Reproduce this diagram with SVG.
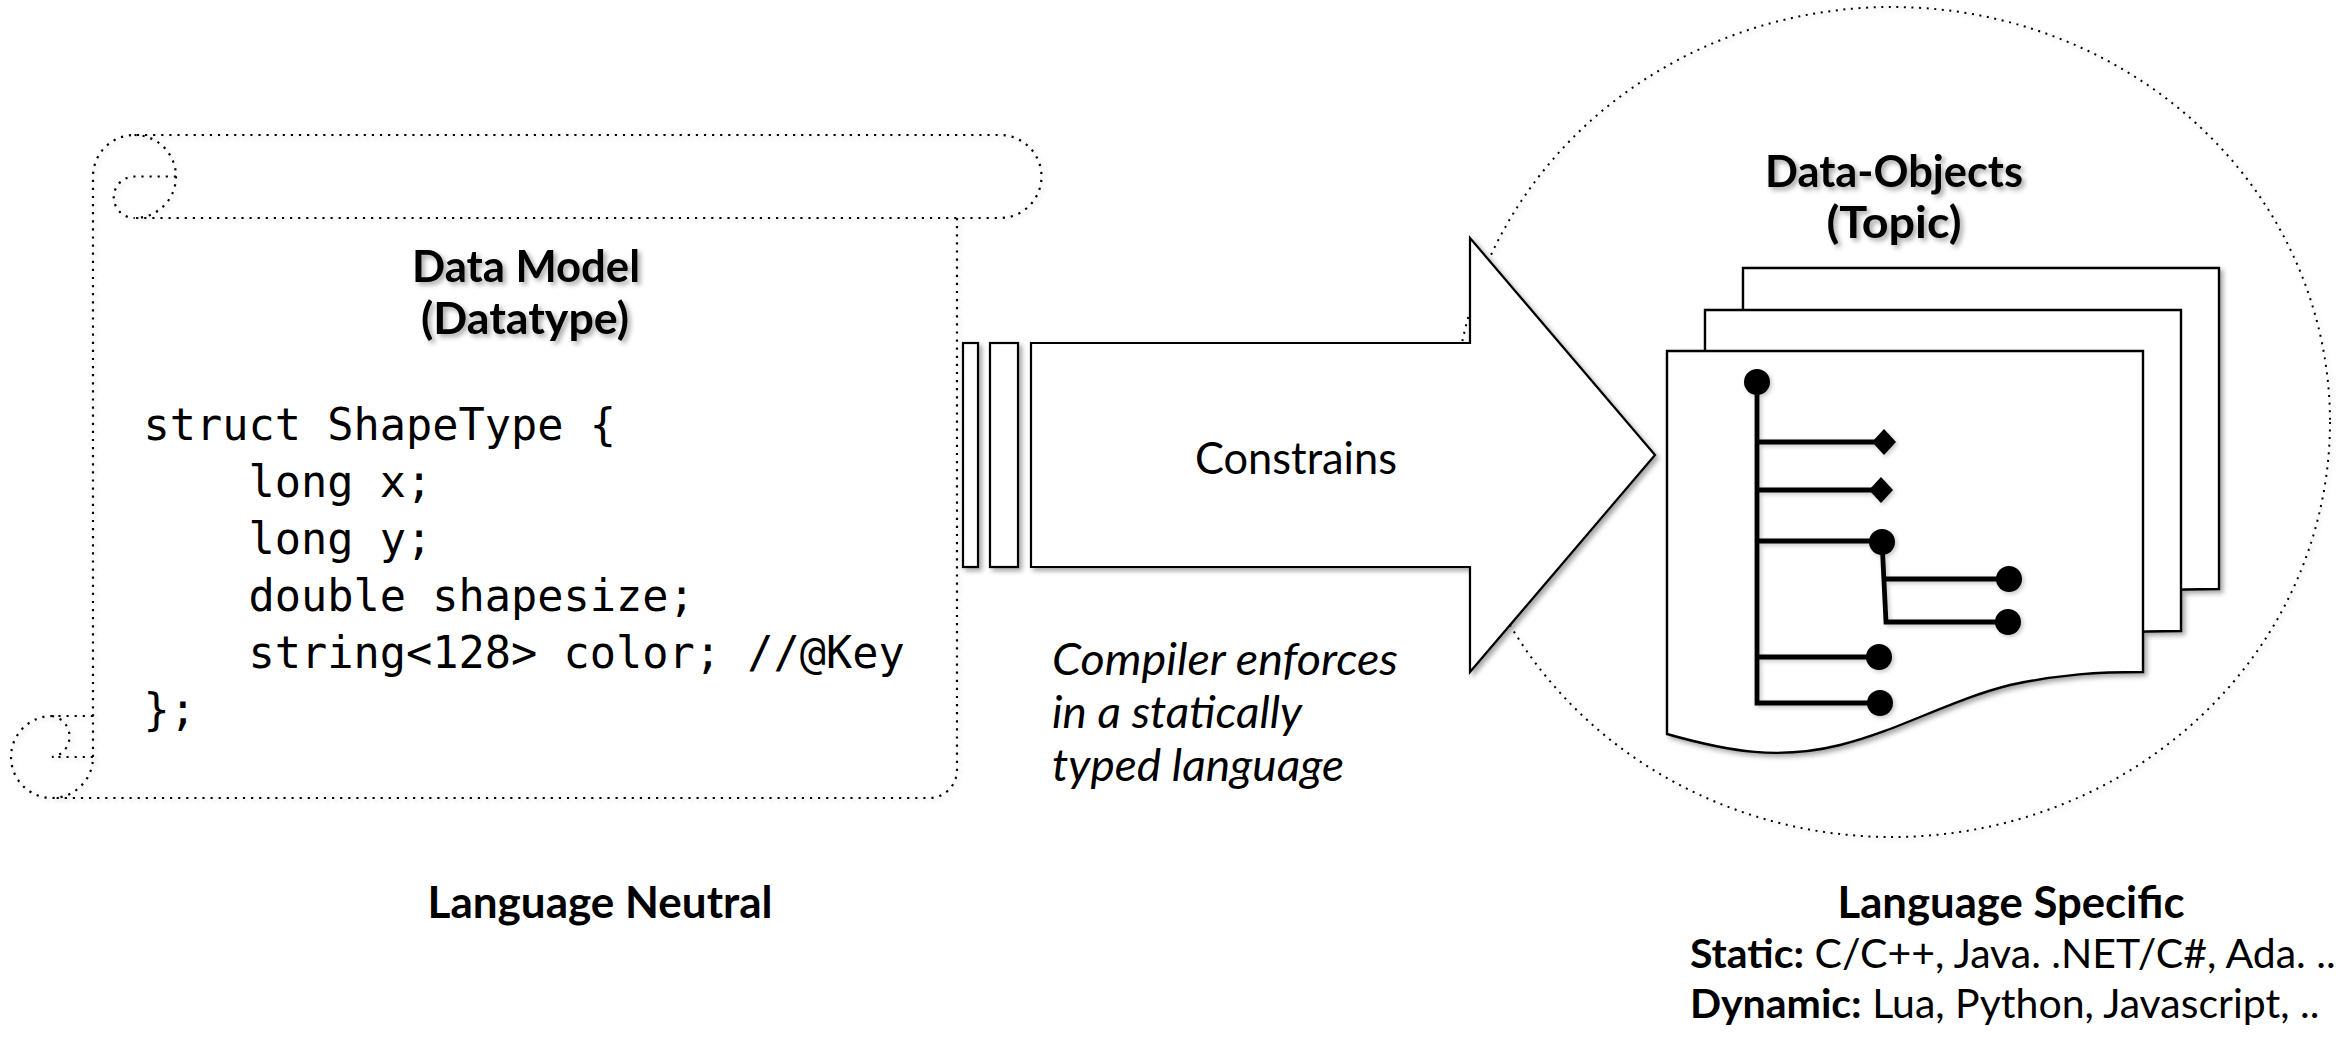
<svg xmlns="http://www.w3.org/2000/svg" width="2344" height="1046" viewBox="0 0 2344 1046">
  <defs>
    <filter id="shadow" x="-10%" y="-10%" width="130%" height="130%">
      <feDropShadow dx="3" dy="3" stdDeviation="2.5" flood-color="#000" flood-opacity="0.35"/>
    </filter>
    <filter id="haze" x="-5%" y="-5%" width="115%" height="115%">
      <feDropShadow dx="2" dy="2" stdDeviation="2" flood-color="#000" flood-opacity="0.22"/>
    </filter>
    <!-- document sheet with a wavy lower edge -->
    <path id="sheet" d="M1667,351 H2143 V672 C2100,672 2060,674 2010,685 C1950,700 1900,730 1840,745 C1780,760 1730,752 1667,734 Z"/>
  </defs>
  <style>
    .dots { fill: none; stroke: #000; stroke-width: 2.2; stroke-dasharray: 2.2 5.9; }
    .ring { fill: none; stroke: #000; stroke-width: 2; stroke-dasharray: 2 5.6; }
    .solid { fill: #fff; stroke: #000; stroke-width: 2.2; }
    .page { fill: #fff; stroke: #000; stroke-width: 2.4; }
    .stem { fill: none; stroke: #000; stroke-width: 4.8; }
    .knob { fill: #000; }
    .sans { font-family: Lato, "Liberation Sans", sans-serif; font-size: 44px; fill: #000; }
    .small { font-size: 41px; }
    .bold { font-weight: 700; }
    .mid { text-anchor: middle; }
    .ital { font-style: italic; }
    .code { font-family: "DejaVu Sans Mono", "Liberation Mono", monospace; font-size: 43.6px; fill: #000; }
  </style>

  <rect width="2344" height="1046" fill="#fff"/>

  <!-- dotted ring around the data objects -->
  <g id="topic-ring" filter="url(#haze)">
    <ellipse class="ring" cx="1892" cy="422" rx="438" ry="415"/>
  </g>

  <!-- scroll holding the language-neutral data model -->
  <g id="data-model" filter="url(#haze)">
    <path class="dots" d="M93,757 V176.5 A41.5,41.5 0 0 1 134.5,135 H1000 A41.5,41.5 0 0 1 1000,218 H134.5"/>
    <path class="dots" d="M134.5,135 A41.5,41.5 0 0 1 134.5,218"/>
    <path class="dots" d="M176,176.5 H134.5 A20.75,20.75 0 0 0 134.5,218"/>
    <path class="dots" d="M957,218 V770 A28,28 0 0 1 929,798 H52"/>
    <path class="dots" d="M93,716 H52 A41,41 0 0 0 52,798 A41,41 0 0 0 93,757"/>
    <path class="dots" d="M52,716 A20.75,20.75 0 0 1 52,757 H93"/>
  </g>

  <g id="data-model-text">
    <g filter="url(#shadow)">
      <text class="sans bold mid" x="526" y="282" textLength="228" lengthAdjust="spacingAndGlyphs">Data Model</text>
      <text class="sans bold mid" x="525" y="334" textLength="208" lengthAdjust="spacingAndGlyphs">(Datatype)</text>
    </g>
    <text class="code" x="143.5" y="440">struct ShapeType {</text>
    <text class="code" x="248.5" y="497">long x;</text>
    <text class="code" x="248.5" y="554">long y;</text>
    <text class="code" x="248.5" y="611">double shapesize;</text>
    <text class="code" x="248.5" y="668">string&lt;128&gt; color; //@Key</text>
    <text class="code" x="143.5" y="725">};</text>
  </g>

  <!-- striped block arrow -->
  <g id="constrains-arrow" filter="url(#shadow)">
    <rect class="solid" x="963" y="343" width="15" height="224"/>
    <rect class="solid" x="990" y="343" width="28" height="224"/>
    <polygon class="solid" points="1031,343 1470,343 1470,238 1655,455 1470,672 1470,567 1031,567"/>
  </g>
  <text class="sans mid" x="1296" y="474" textLength="202" lengthAdjust="spacingAndGlyphs">Constrains</text>

  <g id="compiler-note">
    <text class="sans ital" x="1052" y="675" textLength="346" lengthAdjust="spacingAndGlyphs">Compiler enforces</text>
    <text class="sans ital" x="1052" y="728" textLength="250" lengthAdjust="spacingAndGlyphs">in a statically</text>
    <text class="sans ital" x="1052" y="781" textLength="292" lengthAdjust="spacingAndGlyphs">typed language</text>
  </g>

  <!-- stacked data-object sheets -->
  <g id="data-objects" filter="url(#shadow)">
    <use href="#sheet" class="page" transform="translate(76,-83)"/>
    <use href="#sheet" class="page" transform="translate(38,-41)"/>
    <use href="#sheet" class="page"/>
  </g>

  <!-- member tree on the front sheet -->
  <g id="type-tree" filter="url(#haze)">
    <path class="stem" d="M1757,382 V703 H1880"/>
    <path class="stem" d="M1757,442 H1880 M1757,490 H1877 M1757,541 H1882 L1886,622 H2008 M1886,579 H2009 M1757,657 H1879"/>
    <circle class="knob" cx="1757" cy="382" r="13"/>
    <polygon class="knob" points="1872,442 1884,429 1896,442 1884,455"/>
    <polygon class="knob" points="1869,490 1881,477 1893,490 1881,503"/>
    <circle class="knob" cx="1882" cy="542" r="13"/>
    <circle class="knob" cx="2009" cy="579" r="13"/>
    <circle class="knob" cx="2008" cy="622" r="13"/>
    <circle class="knob" cx="1879" cy="657" r="13"/>
    <circle class="knob" cx="1880" cy="703" r="13"/>
  </g>

  <g id="data-objects-title" filter="url(#shadow)">
    <text class="sans bold mid" x="1894" y="187" textLength="258" lengthAdjust="spacingAndGlyphs">Data-Objects</text>
    <text class="sans bold mid" x="1894" y="238" textLength="135" lengthAdjust="spacingAndGlyphs">(Topic)</text>
  </g>

  <!-- captions -->
  <g id="captions">
    <text class="sans bold mid" x="600" y="918" textLength="345" lengthAdjust="spacingAndGlyphs">Language Neutral</text>
    <text class="sans bold mid" x="2011" y="918" textLength="347" lengthAdjust="spacingAndGlyphs">Language Specific</text>
    <text class="sans small" x="1690" y="968"><tspan class="bold">Static:</tspan> C/C++, Java. .NET/C#, Ada. ..</text>
    <text class="sans small" x="1690" y="1018"><tspan class="bold">Dynamic:</tspan> Lua, Python, Javascript, ..</text>
  </g>
</svg>
